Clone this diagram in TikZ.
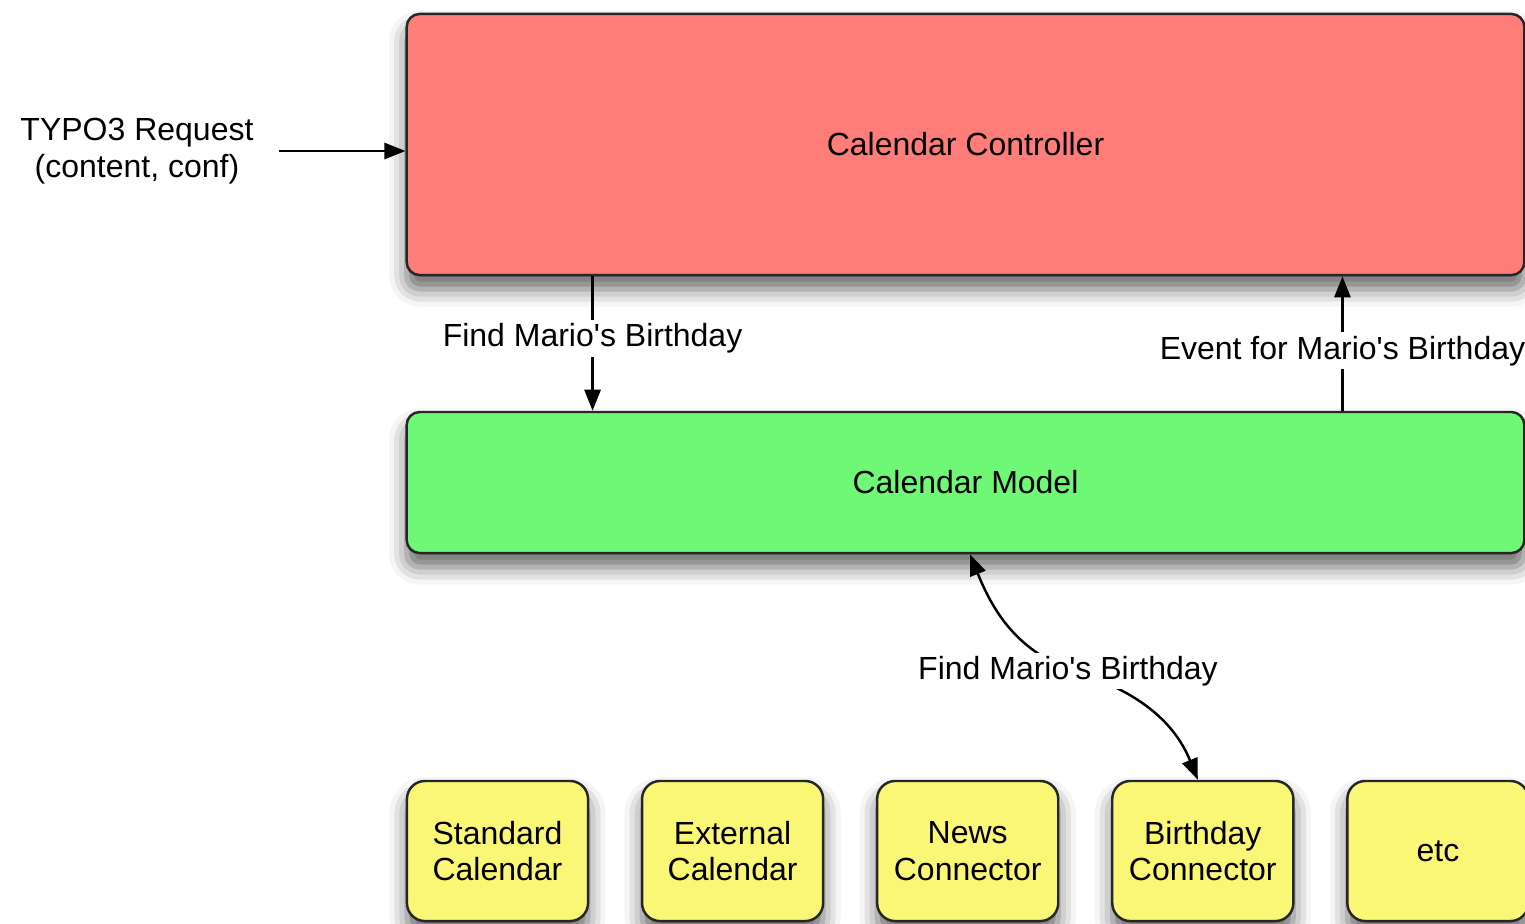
\documentclass[tikz,border=0pt]{standalone}
\usepackage{fontspec}
\setmainfont{Liberation Sans}
\usetikzlibrary{arrows.meta,positioning,shadows.blur}
\definecolor{ctrlred}{RGB}{255,125,120}
\definecolor{modelgreen}{RGB}{110,248,118}
\definecolor{connyellow}{RGB}{250,247,118}

\begin{document}
\begin{tikzpicture}[x=0.01cm,y=-0.01cm,
    every node/.style={font=\fontsize{9.1}{10.5}\selectfont, align=center},
    layer/.style={draw=black!85, line width=0.7pt, rounded corners=0.13cm,
      minimum width=11.17cm,
      blur shadow={shadow xshift=0pt, shadow yshift=-4pt, shadow blur radius=5pt, shadow opacity=60}},
    conn/.style={draw=black!85, line width=0.7pt, rounded corners=0.18cm, fill=connyellow,
      minimum width=1.81cm, minimum height=1.40cm,
      blur shadow={shadow xshift=0pt, shadow yshift=-4pt, shadow blur radius=5pt, shadow opacity=60}},
    arr/.style={line width=0.7pt, -{Triangle[length=6pt,width=4.6pt]}},
    twoarr/.style={line width=0.7pt, {Triangle[length=6pt,width=4.6pt]}-{Triangle[length=6pt,width=4.6pt]}},
    lbl/.style={fill=white, inner sep=1pt}]
    \useasboundingbox (0,0) rectangle (1525,923);

    \node[layer, fill=ctrlred, minimum height=2.61cm] (ctrl) at (965.5,144.5) {Calendar Controller};
    \node[layer, fill=modelgreen, minimum height=1.41cm] (model) at (965.5,482.5) {Calendar Model};

    \node[conn] (std) at (497.5,851) {Standard\\Calendar};
    \node[conn, right=0.515cm of std] (ext) {External\\Calendar};
    \node[conn, right=0.515cm of ext] (news) {News\\Connector};
    \node[conn, right=0.515cm of news] (bday) {Birthday\\Connector};
    \node[conn, right=0.515cm of bday] (etc) {etc};

    \node (req) at (137,151) {TYPO3 Request\\(content, conf)};
    \draw[arr] ([xshift=0.13cm]req.east) -- (req.east -| ctrl.west);

    \draw[arr] ([xshift=1.87cm]ctrl.south west) -- node[lbl, pos=0.46] {Find Mario\textquotesingle s Birthday} ([xshift=1.87cm]model.north west);
    \draw[arr] ([xshift=-1.83cm]model.north east) -- node[lbl, pos=0.445] {Event for Mario\textquotesingle s Birthday} ([xshift=-1.83cm]ctrl.south east);

    \coordinate (bend) at (1077,672);
    \draw[twoarr] ([xshift=-0.05cm]bday.north) to[out=112, in=-18] (bend) to[out=162, in=-68] ([xshift=0.045cm]model.south);
    \node[lbl] (find) at (1068,671) {Find Mario\textquotesingle s Birthday};
\end{tikzpicture}
\end{document}
